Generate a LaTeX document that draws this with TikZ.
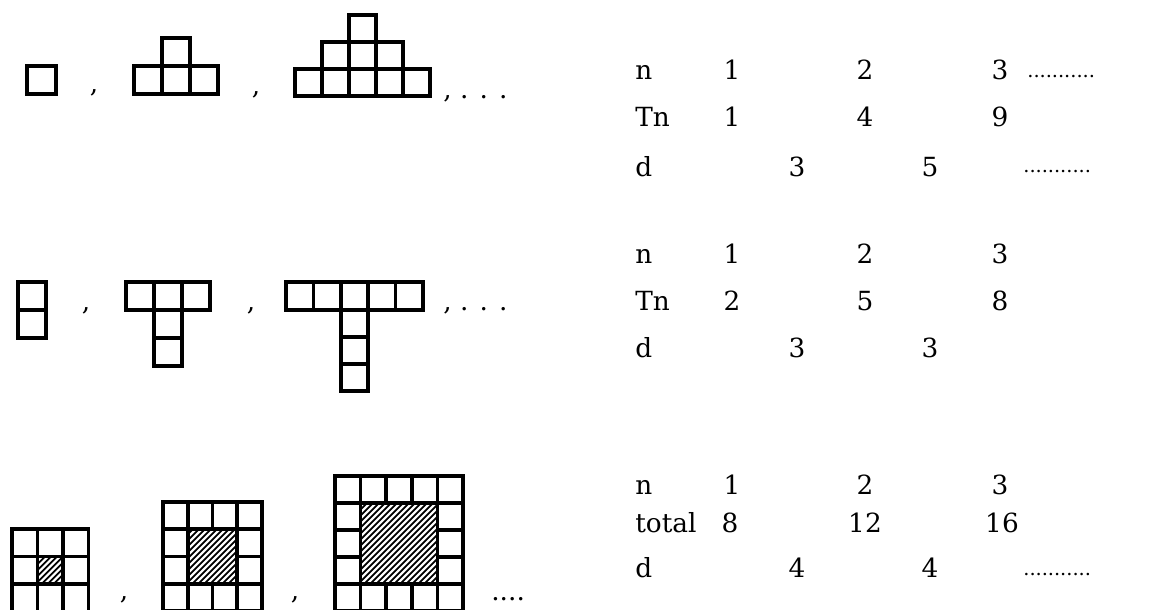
\documentclass[tikz,border=0pt]{standalone}
\usepackage{fontspec}
\setmainfont{DejaVu Serif}
\usepackage{tikz}
\usetikzlibrary{positioning}

\tikzset{
  cell/.style={line width=2.1pt},
  hatch/.style={line width=1pt},
  txt/.style={font=\fontsize{15}{18}\selectfont,inner sep=0pt,anchor=base},
  lbl/.style={txt,anchor=base west},
  leader/.style={font=\fontsize{11}{13}\selectfont,inner sep=0pt,anchor=base west},
}

\begin{document}
\begin{tikzpicture}[x=0.02cm,y=-0.02cm]
\useasboundingbox (0,0) rectangle (1162,609);
\clip (0,0) rectangle (1162,609);

% first row: stepped piles
\draw[cell] (27,66) rectangle (56,94);
\foreach \i in {0,1,2} \draw[cell] (134+28*\i,66) rectangle ++(28,28);
\draw[cell] (162,38) rectangle ++(28,28);
\foreach \i in {0,...,4} \draw[cell] (295+27*\i,69) rectangle ++(27,27);
\foreach \i in {1,2,3} \draw[cell] (295+27*\i,42) rectangle ++(27,27);
\draw[cell] (349,15) rectangle ++(27,27);
\node[txt] (c1a) at (94,92) {,};
\node[txt] (c1b) at (256,94) {,};
\node[lbl] (e1) at (443,98) {, . . .};

% second row: T shapes
\draw[cell] (18,282) rectangle ++(28,28);
\draw[cell] (18,310) rectangle ++(28,28);
\foreach \i in {0,1,2} \draw[cell] (126+28*\i,282) rectangle ++(28,28);
\foreach \j in {0,1} \draw[cell] (154,310+28*\j) rectangle ++(28,28);
\foreach \i in {0,...,4} \draw[cell] (286+27.4*\i,282) rectangle ++(27.4,28);
\foreach \j in {0,1,2} \draw[cell] (340.8,310+27*\j) rectangle ++(27.4,27);
\node[txt] (c2a) at (86,310) {,};
\node[txt] (c2b) at (251,310) {,};
\node[lbl] (e2) at (443,310) {, . . .};

% third row: framed squares with hatched middle
\foreach \x/\y/\w/\h/\n in {12/529/25.5/27.5/3, 163/502/24.75/27.3/4, 335/476/25.6/27/5}{
  \foreach \i in {1,...,\n} \foreach \j in {1,...,\n}
    \draw[cell] (\x+\w*\i-\w,\y+\h*\j-\h) rectangle ++(\w,\h);
  \begin{scope}
    \clip (\x+\w,\y+\h) rectangle (\x+\w*\n-\w,\y+\h*\n-\h);
    \fill[white] (\x,\y) rectangle ++(200,200);
    \foreach \k in {0,6,...,180} \draw[hatch] (\x+\k-100,\y+\h*\n) -- ++(150,-150);
  \end{scope}
  \draw[cell] (\x+\w,\y+\h) rectangle (\x+\w*\n-\w,\y+\h*\n-\h);
}
\node[txt] (c3a) at (124,599) {,};
\node[txt] (c3b) at (295,599) {,};
\node[lbl] (e3) at (491,600) {....};

% table for the piles
\node[lbl] (An) at (635,79) {n};
\node[lbl] (AT) at (635,126) {Tn};
\node[lbl] (Ad) at (635,176) {d};
\foreach \v/\x [count=\i] in {1/732,2/865,3/1000} \node[txt] (An\i) at (\x,79) {\v};
\foreach \v/\x [count=\i] in {1/732,4/865,9/1000} \node[txt] (AT\i) at (\x,126) {\v};
\foreach \v/\x [count=\i] in {3/797,5/930} \node[txt] (Ad\i) at (\x,176) {\v};
\node[leader] (Andots) at (1027,77) {...........};
\node[leader] (Addots) at (1023,172) {...........};

% table for the T shapes
\node[lbl] (Bn) at (635,263) {n};
\node[lbl] (BT) at (635,310) {Tn};
\node[lbl] (Bd) at (635,357) {d};
\foreach \v/\x [count=\i] in {1/732,2/865,3/1000} \node[txt] (Bn\i) at (\x,263) {\v};
\foreach \v/\x [count=\i] in {2/732,5/865,8/1000} \node[txt] (BT\i) at (\x,310) {\v};
\foreach \v/\x [count=\i] in {3/797,3/930} \node[txt] (Bd\i) at (\x,357) {\v};

% table for the frames
\node[lbl] (Cn) at (635,494) {n};
\node[lbl] (Ct) at (635,532) {total};
\node[lbl] (Cd) at (635,577) {d};
\foreach \v/\x [count=\i] in {1/732,2/865,3/1000} \node[txt] (Cn\i) at (\x,494) {\v};
\foreach \v/\x [count=\i] in {8/730,12/865,16/1002} \node[txt] (Ct\i) at (\x,532) {\v};
\foreach \v/\x [count=\i] in {4/797,4/930} \node[txt] (Cd\i) at (\x,577) {\v};
\node[leader] (Cddots) at (1023,575) {...........};
\end{tikzpicture}
\end{document}
